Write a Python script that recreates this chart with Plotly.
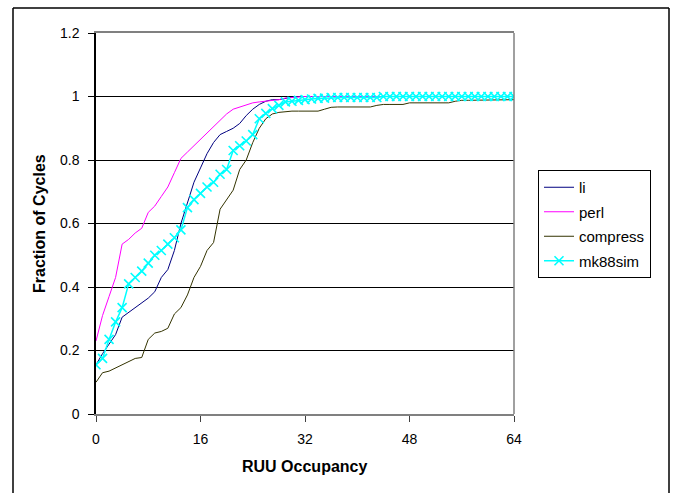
import plotly.graph_objects as go

x_vals = list(range(0, 65))

li = [0.155, 0.19, 0.22, 0.25, 0.305, 0.32, 0.335, 0.35, 0.365, 0.385,
      0.43, 0.455, 0.515, 0.6, 0.665, 0.73, 0.775, 0.82, 0.855, 0.88,
      0.89, 0.9, 0.915, 0.94, 0.96, 0.975, 0.985, 0.99, 0.99, 0.995,
      0.998] + [1.0] * 34

perl = [0.23, 0.31, 0.37, 0.43, 0.535, 0.55, 0.57, 0.585, 0.635, 0.655,
        0.685, 0.715, 0.76, 0.805, 0.825, 0.845, 0.865, 0.885, 0.905, 0.925,
        0.945, 0.96, 0.967, 0.973, 0.98, 0.983, 0.985, 0.986, 0.99, 0.995,
        0.997] + [1.0] * 34

compress = [0.10, 0.13, 0.135, 0.145, 0.155, 0.165, 0.175, 0.178, 0.235, 0.255,
            0.26, 0.27, 0.315, 0.335, 0.375, 0.43, 0.465, 0.515, 0.54, 0.645,
            0.675, 0.705, 0.77, 0.80, 0.855, 0.90, 0.93, 0.945, 0.95, 0.953,
            0.954, 0.954, 0.954, 0.954, 0.954, 0.96, 0.966, 0.967, 0.967, 0.967,
            0.967, 0.967, 0.967, 0.972, 0.975, 0.975, 0.975, 0.975, 0.98, 0.98,
            0.98, 0.98, 0.98, 0.98, 0.98, 0.985, 0.988, 0.988, 0.988, 0.988,
            0.988, 0.988, 0.988, 0.988, 0.99]

mk88sim = [0.155, 0.175, 0.235, 0.29, 0.335, 0.41, 0.43, 0.45, 0.475, 0.50,
           0.515, 0.535, 0.555, 0.58, 0.65, 0.675, 0.695, 0.715, 0.73, 0.755,
           0.77, 0.83, 0.845, 0.86, 0.88, 0.93, 0.947, 0.962, 0.972, 0.983,
           0.985, 0.988, 0.99, 0.992, 0.994, 0.995, 0.997, 0.997, 0.997, 0.997,
           0.997, 0.997, 0.997, 0.997] + [1.0] * 21

x_ticks = [0, 16, 32, 48, 64]
y_ticks = [0, 0.2, 0.4, 0.6, 0.8, 1.0, 1.2]
y_tick_text = ["0", "0.2", "0.4", "0.6", "0.8", "1", "1.2"]

FONT = "Liberation Sans, Arial, sans-serif"

fig = go.Figure()
fig.add_trace(go.Scatter(x=x_vals, y=li, mode="lines", name="li",
                         line=dict(color="#000080", width=1), legendgroup="a"))
fig.add_trace(go.Scatter(x=x_vals, y=perl, mode="lines", name="perl",
                         line=dict(color="#FF00FF", width=1), legendgroup="b"))
fig.add_trace(go.Scatter(x=x_vals, y=compress, mode="lines", name="compress",
                         line=dict(color="#333300", width=1), legendgroup="c"))
fig.add_trace(go.Scatter(x=x_vals, y=mk88sim, mode="lines+markers", name="mk88sim",
                         line=dict(color="#00FFFF", width=1.5),
                         marker=dict(symbol="x-thin", size=9,
                                     line=dict(color="#00FFFF", width=1.6)),
                         legendgroup="d"))

W, H = 673, 493
L, R, T, B = 96, 514, 33, 414
pw, ph = R - L, B - T

def px(xp):
    return (xp - L) / pw

def py(yp):
    return (B - yp) / ph

frame = dict(color="black", width=1.5)

fig.update_layout(
    width=W, height=H,
    margin=dict(l=L, r=W - R, t=T, b=H - B, pad=0),
    paper_bgcolor="white", plot_bgcolor="white",
    font=dict(family=FONT, size=14, color="black"),
    showlegend=True,
    legend=dict(x=px(538), y=py(170), xanchor="left", yanchor="top",
                bordercolor="black", borderwidth=1, bgcolor="white",
                font=dict(family=FONT, size=15, color="black"),
                traceorder="grouped", tracegroupgap=2,
                itemwidth=30),
    xaxis=dict(range=[0, 64], tickvals=x_ticks, ticks="outside", ticklen=6,
               tickcolor="#404040", showgrid=False, zeroline=False,
               showline=True, linecolor="#808080", linewidth=2, mirror=True,
               tickfont=dict(size=14), ticklabelstandoff=5),
    yaxis=dict(range=[0, 1.2], tickvals=y_ticks, ticktext=y_tick_text,
               ticks="outside", ticklen=6, tickcolor="black",
               showgrid=True, gridcolor="black", gridwidth=1, zeroline=False,
               showline=True, linecolor="black", linewidth=1.5,
               tickfont=dict(size=14), ticklabelstandoff=6),
    annotations=[
        dict(text="<b>RUU Occupancy</b>", xref="paper", yref="paper",
             x=px(304), y=py(467), xanchor="center", yanchor="middle",
             showarrow=False, font=dict(family=FONT, size=16, color="black")),
        dict(text="<b>Fraction of Cycles</b>", xref="paper", yref="paper",
             x=px(40), y=py(224), xanchor="center", yanchor="middle",
             textangle=-90, showarrow=False,
             font=dict(family=FONT, size=16, color="black")),
    ],
    shapes=[
        dict(type="line", xref="paper", yref="paper", x0=1, x1=1, y0=0, y1=1,
             line=dict(color="#808080", width=1.5)),
        dict(type="line", xref="paper", yref="paper",
             x0=px(13), x1=px(669), y0=py(8), y1=py(8), line=frame),
        dict(type="line", xref="paper", yref="paper",
             x0=px(13), x1=px(13), y0=py(8), y1=py(493), line=frame),
        dict(type="line", xref="paper", yref="paper",
             x0=px(669), x1=px(669), y0=py(8), y1=py(493), line=frame),
    ],
)

fig.write_html("out.html", config={"displayModeBar": False},
               post_script="document.body.style.margin='0';document.body.style.padding='0';")
